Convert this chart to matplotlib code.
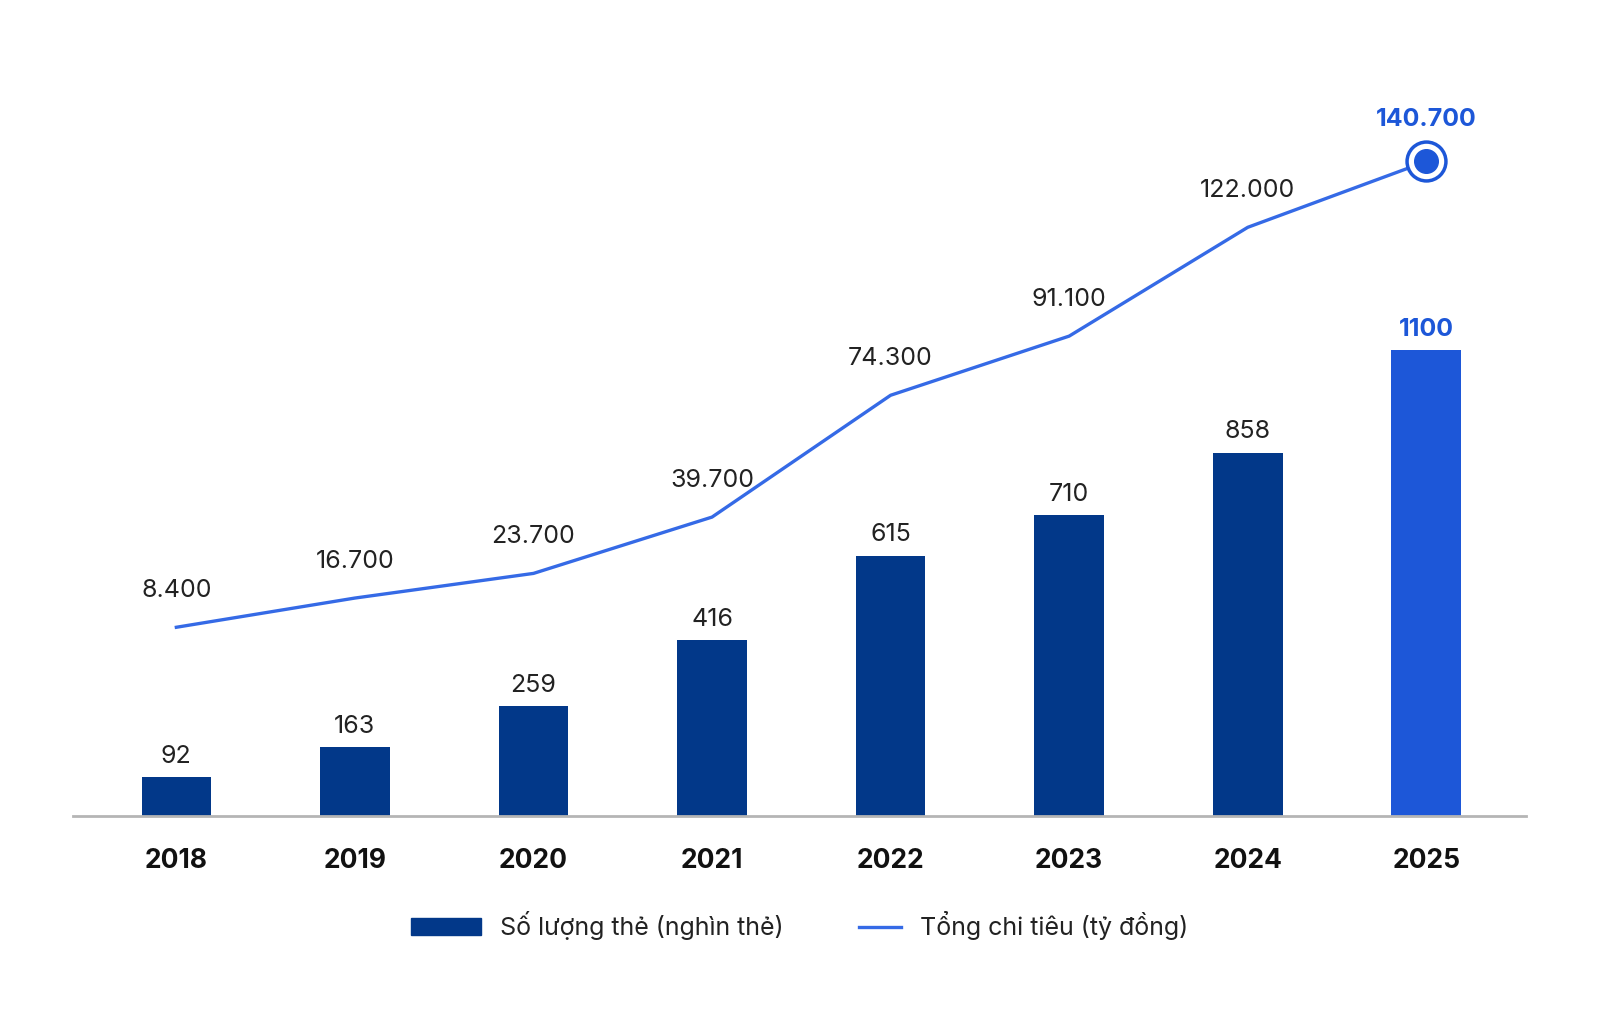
import matplotlib
matplotlib.use("Agg")
import matplotlib.pyplot as plt
from matplotlib.patches import Patch
from matplotlib.lines import Line2D
from matplotlib.legend_handler import HandlerLine2D

plt.rcParams['font.family'] = ['Inter', 'DejaVu Sans']

years = ['2018', '2019', '2020', '2021', '2022', '2023', '2024', '2025']
so_the = [92, 163, 259, 416, 615, 710, 858, 1100]
chi_tieu = [8400, 16700, 23700, 39700, 74300, 91100, 122000, 140700]
chi_tieu_labels = ['8.400', '16.700', '23.700', '39.700', '74.300', '91.100', '122.000', '140.700']

navy = '#023889'
bright = '#1D57D8'
line_col = '#356AE6'


# short line in legend, pushed to the right of the handle box
class ShortLine(HandlerLine2D):
    def create_artists(self, legend, orig_handle, xdescent, ydescent,
                       width, height, fontsize, trans):
        y = (height - ydescent) / 2
        ln = Line2D([-xdescent + 0.4 * width, -xdescent + width], [y, y],
                    color=orig_handle.get_color(),
                    linewidth=orig_handle.get_linewidth())
        ln.set_transform(trans)
        return [ln]


fig = plt.figure(figsize=(16, 10.15), dpi=100)
ax = fig.add_axes([0.0456, 0.196, 0.908, 0.744])
ax2 = ax.twinx()

x = list(range(len(years)))
colors = [navy] * (len(years) - 1) + [bright]
ax.bar(x, so_the, width=0.39, color=colors, zorder=2)
for i, v in enumerate(so_the):
    last = i == len(years) - 1
    ax.text(i, v + 22, str(v), ha='center', va='bottom', fontsize=18,
            color=bright if last else '#222222',
            fontweight='bold' if last else 'normal')

ax.set_xlim(-0.579, 7.557)
ax.set_ylim(0, 1783)
ax.set_yticks([])
for s in ['top', 'right', 'left']:
    ax.spines[s].set_visible(False)
ax.spines['bottom'].set_color('#b5b5b5')
ax.spines['bottom'].set_linewidth(2)
ax.set_xticks(x)
ax.set_xticklabels(years, fontsize=19, fontweight='bold', color='#111111')
ax.tick_params(axis='x', length=0, pad=23)

ax2.plot(x, chi_tieu, color=line_col, linewidth=2.4, zorder=3)
ax2.plot(x[-1], chi_tieu[-1], 'o', markersize=28, markerfacecolor='white',
         markeredgecolor=bright, markeredgewidth=2.5, zorder=4)
ax2.plot(x[-1], chi_tieu[-1], 'o', markersize=17, color=bright, zorder=5)
for i, (v, lab) in enumerate(zip(chi_tieu, chi_tieu_labels)):
    last = i == len(years) - 1
    off = 8700 if last else 7200
    ax2.text(i, v + off, lab, ha='center', va='bottom', fontsize=18,
             color=bright if last else '#222222',
             fontweight='bold' if last else 'normal')
ax2.set_ylim(-45223, 169270)
ax2.set_yticks([])
for s in ['top', 'right', 'left', 'bottom']:
    ax2.spines[s].set_visible(False)

line_handle = Line2D([0], [0], color=line_col, linewidth=2.4)
handles = [Patch(facecolor=navy, edgecolor=navy), line_handle]
fig.legend(handles, ['Số lượng thẻ (nghìn thẻ)', 'Tổng chi tiêu (tỷ đồng)'],
           loc='center', bbox_to_anchor=(0.4997, 0.0877), ncol=2, frameon=False,
           fontsize=18, handlelength=2.8, handleheight=0.65, columnspacing=1.9,
           handletextpad=0.75, labelcolor='#222222',
           handler_map={line_handle: ShortLine()})

fig.savefig('out.png', dpi=100, facecolor='white')
